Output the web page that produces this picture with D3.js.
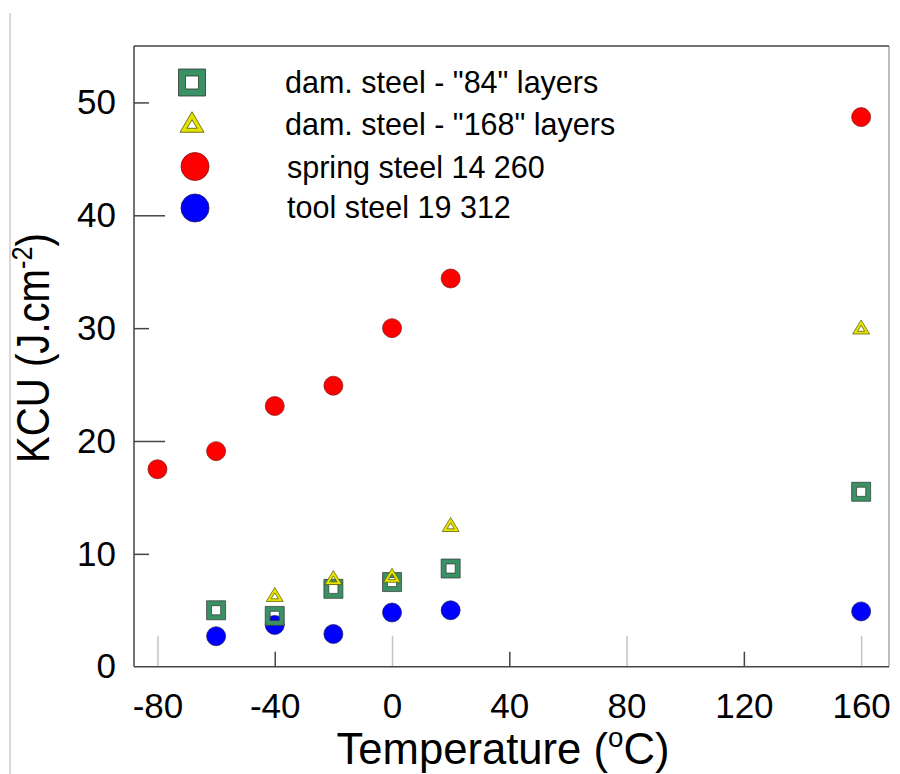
<!DOCTYPE html>
<html>
<head>
<meta charset="utf-8">
<script src="https://cdn.jsdelivr.net/npm/d3@7"></script>
<style>
  html, body { margin: 0; padding: 0; background: #fff; }
  svg { display: block; font-family: "Liberation Sans", Arial, Helvetica, sans-serif; }
</style>
</head>
<body>
<svg id="chart" width="900" height="774"></svg>
<script>
// ---- data ----
const springT = [-80, -60, -40, -20, 0, 20, 160];
const springV = [17.5, 19.1, 23.1, 24.9, 30.0, 34.4, 48.7];
const toolT = [-60, -40, -20, 0, 20, 160];
const toolV = [2.7, 3.7, 2.9, 4.8, 5.0, 4.9];
const dam84T = [-60, -40, -20, 0, 20, 160];
const dam84V = [5.0, 4.5, 6.9, 7.5, 8.7, 15.5];
const dam168T = [-40, -20, 0, 20, 160];
const dam168V = [6.4, 7.9, 8.1, 12.6, 30.1];
const xTicks = [-80, -40, 0, 40, 80, 120, 160];
const yTicks = [0, 10, 20, 30, 40, 50];
const legendLabels = ['dam. steel - "84" layers', 'dam. steel - "168" layers', 'spring steel 14 260', 'tool steel 19 312'];

const svg = d3.select('#chart');
const pL = 134, pR = 889, pT = 46, pB = 666.7;
const x = d3.scaleLinear().domain([-88, 169.5]).range([pL, pR]);
const y = d3.scaleLinear().domain([0, 55]).range([pB, pT]);

// page edge line
svg.append('line').attr('x1', 10).attr('x2', 10).attr('y1', 13).attr('y2', 774)
  .attr('stroke', '#d9d9d9').attr('stroke-width', 2);

// frame
svg.append('line').attr('x1', pR).attr('x2', pR).attr('y1', pT).attr('y2', pB)
  .attr('stroke', '#a8a8a8').attr('stroke-width', 1.5);
svg.append('line').attr('x1', pL).attr('x2', pR).attr('y1', pT).attr('y2', pT)
  .attr('stroke', '#444').attr('stroke-width', 1.5);

// x axis
const gx = svg.append('g').attr('transform', `translate(0,${pB})`)
  .call(d3.axisBottom(x).tickValues(xTicks).tickFormat(d => String(d))
    .tickSizeInner(-15).tickSizeOuter(0).tickPadding(26));
gx.select('.domain').remove();
gx.selectAll('.tick line')
  .attr('stroke', d => (d % 80 === 0) ? '#c4c4c4' : '#444')
  .attr('stroke-width', 1.5)
  .attr('y2', d => (d % 80 === 0) ? -31 : -15);
gx.selectAll('.tick text').attr('font-size', 35).attr('fill', '#000')
  .attr('font-family', '"Liberation Sans", Arial, sans-serif');

// y axis
const gy = svg.append('g').attr('transform', `translate(${pL},0)`)
  .call(d3.axisLeft(y).tickValues(yTicks).tickFormat(d => String(d))
    .tickSizeInner(-15).tickSizeOuter(0).tickPadding(18));
gy.select('.domain').remove();
gy.selectAll('.tick line')
  .attr('stroke', '#444').attr('stroke-width', 1.5)
  .attr('x2', d => (d === 20 || d === 40) ? 31 : (d === 0 ? 0 : 15));
gy.selectAll('.tick text').attr('font-size', 35).attr('fill', '#000')
  .attr('font-family', '"Liberation Sans", Arial, sans-serif');

// axis lines
svg.append('line').attr('x1', pL).attr('x2', pR).attr('y1', pB).attr('y2', pB)
  .attr('stroke', '#444').attr('stroke-width', 1.5);
svg.append('line').attr('x1', pL).attr('x2', pL).attr('y1', pT).attr('y2', pB)
  .attr('stroke', '#444').attr('stroke-width', 1.5);

// marker shapes
function squarePath(s) {
  const i = s * 0.48;
  return `M${-s/2},${-s/2}h${s}v${s}h${-s}Z M${-i/2},${-i/2}v${i}h${i}v${-i}Z`;
}
function triPath(w, h) {
  const pts = [[0, -h/2], [w/2, h/2], [-w/2, h/2]];
  const c = [0, h/6], k = 0.42;
  const inner = pts.map(p => [c[0] + k * (p[0] - c[0]), c[1] + k * (p[1] - c[1])]);
  return `M${pts.map(p => p.join(',')).join('L')}Z M${inner[0].join(',')}L${inner[2].join(',')}L${inner[1].join(',')}Z`;
}
const green = '#3a9163', yellow = '#e4e400';

const gPts = svg.append('g');
gPts.selectAll('circle.red').data(springT.map((t, i) => [t, springV[i]])).join('circle')
  .attr('class', 'red').attr('cx', d => x(d[0])).attr('cy', d => y(d[1])).attr('r', 9.5)
  .attr('fill', '#ff0000').attr('stroke', '#7a1a1a').attr('stroke-width', 0.7);
gPts.selectAll('circle.blue').data(toolT.map((t, i) => [t, toolV[i]])).join('circle')
  .attr('class', 'blue').attr('cx', d => x(d[0])).attr('cy', d => y(d[1])).attr('r', 9.5)
  .attr('fill', '#0000ff').attr('stroke', '#1a1a5a').attr('stroke-width', 0.7);
gPts.selectAll('path.sq').data(dam84T.map((t, i) => [t, dam84V[i]])).join('path')
  .attr('class', 'sq').attr('d', squarePath(19)).attr('fill-rule', 'evenodd')
  .attr('transform', d => `translate(${x(d[0])},${y(d[1])})`)
  .attr('fill', green).attr('stroke', '#333').attr('stroke-width', 0.7);
gPts.selectAll('path.tri').data(dam168T.map((t, i) => [t, dam168V[i]])).join('path')
  .attr('class', 'tri').attr('d', triPath(17, 14)).attr('fill-rule', 'evenodd')
  .attr('transform', d => `translate(${x(d[0])},${y(d[1])})`)
  .attr('fill', yellow).attr('stroke', '#555500').attr('stroke-width', 0.7);

// legend
const lg = svg.append('g');
const rows = [82.5, 122, 166.5, 208];
lg.append('path').attr('d', squarePath(27)).attr('fill-rule', 'evenodd')
  .attr('transform', `translate(192,${rows[0]})`).attr('fill', green).attr('stroke', '#333').attr('stroke-width', 0.8);
lg.append('path').attr('d', triPath(24, 20.5)).attr('fill-rule', 'evenodd')
  .attr('transform', `translate(192,${rows[1]})`).attr('fill', yellow).attr('stroke', '#555500').attr('stroke-width', 0.8);
lg.append('circle').attr('cx', 195).attr('cy', rows[2]).attr('r', 14)
  .attr('fill', '#ff0000').attr('stroke', '#7a1a1a').attr('stroke-width', 0.8);
lg.append('circle').attr('cx', 195).attr('cy', rows[3]).attr('r', 14)
  .attr('fill', '#0000ff').attr('stroke', '#1a1a5a').attr('stroke-width', 0.8);
const textX = [285, 285, 287, 287];
const textY = [93, 135, 178, 218];
lg.selectAll('text').data(legendLabels).join('text')
  .attr('x', (d, i) => textX[i]).attr('y', (d, i) => textY[i])
  .attr('font-size', 30.5).attr('fill', '#000').text(d => d);

// axis titles
const xt = svg.append('text').attr('text-anchor', 'middle').attr('font-size', 44).attr('fill', '#000')
  .attr('transform', 'translate(503,763.5)');
xt.append('tspan').text('Temperature (');
xt.append('tspan').attr('font-size', 28).attr('dy', -17).text('o');
xt.append('tspan').attr('dy', 17).text('C)');
const xw = xt.node().getComputedTextLength();
xt.attr('transform', `translate(503,763.5) scale(${333 / xw},1)`);

const yt = svg.append('text').attr('text-anchor', 'middle').attr('font-size', 46).attr('fill', '#000');
yt.append('tspan').text('KCU (J.cm');
yt.append('tspan').attr('font-size', 29).attr('dy', -17).text('-2');
yt.append('tspan').attr('dy', 17).text(')');
const yw = yt.node().getComputedTextLength();
yt.attr('transform', `translate(49,348) rotate(-90) scale(${230 / yw},1)`);
</script>
</body>
</html>
